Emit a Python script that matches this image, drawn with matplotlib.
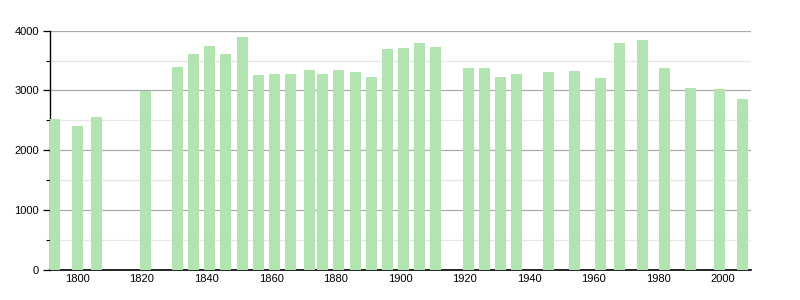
import matplotlib
matplotlib.use("Agg")
import matplotlib.pyplot as plt
from matplotlib.ticker import MultipleLocator

# population by census year
years = [1793, 1800, 1806, 1821, 1831, 1836, 1841, 1846, 1851, 1856,
         1861, 1866, 1872, 1876, 1881, 1886, 1891, 1896, 1901, 1906,
         1911, 1921, 1926, 1931, 1936, 1946, 1954, 1962, 1968, 1975,
         1982, 1990, 1999, 2006]
population = [2530, 2400, 2550, 2990, 3400, 3617, 3750, 3617, 3900, 3250,
              3278, 3278, 3344, 3278, 3350, 3300, 3233, 3700, 3717, 3800,
              3733, 3383, 3383, 3233, 3267, 3300, 3317, 3200, 3800, 3850,
              3383, 3033, 3017, 2850]
xticks = [1800, 1820, 1840, 1860, 1880, 1900, 1920, 1940, 1960, 1980, 2000]
yticks = [0, 1000, 2000, 3000, 4000]

plt.rcParams["font.family"] = ["Liberation Sans", "DejaVu Sans"]

fig = plt.figure(figsize=(8, 3), dpi=100)
ax = fig.add_axes([0.0625, 0.1, 0.876, 0.798])

ax.bar(years, population, width=3.4, color="#b2e4b2", zorder=3)

ax.set_xlim(1791.5, 2008.6)
ax.set_ylim(0, 4000)
ax.set_xticks(xticks)
ax.set_yticks(yticks)
ax.yaxis.set_minor_locator(MultipleLocator(500))

ax.grid(axis="y", which="major", color="#aaaaaa", linewidth=0.9, zorder=0)
ax.grid(axis="y", which="minor", color="#e6e6e6", linewidth=0.9, zorder=0)

for s in ["top", "right"]:
    ax.spines[s].set_visible(False)
ax.spines["left"].set_linewidth(1.0)
ax.spines["bottom"].set_linewidth(1.2)

ax.tick_params(axis="x", length=0, labelsize=8, pad=3)
ax.tick_params(axis="y", which="major", length=5, width=0.9, labelsize=8, pad=3)
ax.tick_params(axis="y", which="minor", length=3, width=0.8)

fig.savefig("out.png", dpi=100)
